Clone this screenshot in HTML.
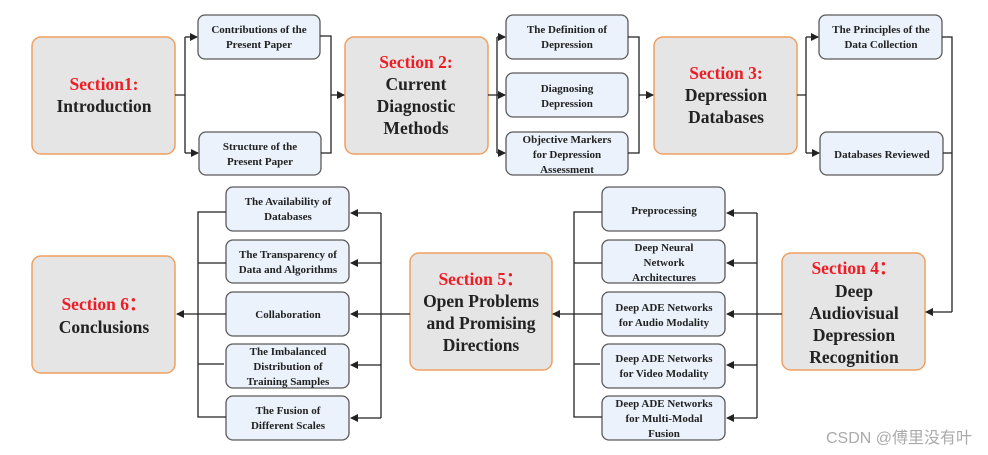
<!DOCTYPE html>
<html><head><meta charset="utf-8"><style>
html,body{margin:0;padding:0;background:#fff;}
svg{display:block;}
.big{fill:#e5e5e5;stroke:#f0a060;stroke-width:1.5;}
.sm{fill:#ebf2fb;stroke:#5a5a5a;stroke-width:1.3;}
.bt{font-family:"Liberation Serif",serif;font-weight:bold;font-size:17.5px;fill:#222;text-anchor:middle;}
.red{fill:#ee1c24;}
.st{font-family:"Liberation Serif",serif;font-weight:bold;font-size:11px;fill:#222;text-anchor:middle;}
.ln{stroke:#222;stroke-width:1.3;fill:none;}
</style></head><body>
<svg width="988" height="455" viewBox="0 0 988 455" xmlns="http://www.w3.org/2000/svg">
<defs><marker id="a" markerWidth="8" markerHeight="8" refX="7" refY="4" orient="auto" markerUnits="userSpaceOnUse"><path d="M0,0 L8,4 L0,8 z" fill="#222"/></marker></defs>

<!-- big boxes -->
<rect class="big" x="32" y="37" width="143" height="117" rx="9"/>
<text class="bt red" x="104" y="90">Section1:</text>
<text class="bt" x="104" y="112">Introduction</text>

<rect class="big" x="345" y="37" width="143" height="117" rx="9"/>
<text class="bt red" x="416" y="68">Section 2:</text>
<text class="bt" x="416" y="90">Current</text>
<text class="bt" x="416" y="112">Diagnostic</text>
<text class="bt" x="416" y="134">Methods</text>

<rect class="big" x="654" y="37" width="143" height="117" rx="9"/>
<text class="bt red" x="726" y="79">Section 3:</text>
<text class="bt" x="726" y="101">Depression</text>
<text class="bt" x="726" y="123">Databases</text>

<rect class="big" x="782" y="253" width="143" height="117" rx="9"/>
<text class="bt" x="854" y="274"><tspan class="red">Section 4：</tspan></text>
<text class="bt" x="854" y="297">Deep</text>
<text class="bt" x="854" y="319">Audiovisual</text>
<text class="bt" x="854" y="341">Depression</text>
<text class="bt" x="854" y="363">Recognition</text>

<rect class="big" x="410" y="253" width="142" height="117" rx="9"/>
<text class="bt red" x="481" y="285">Section 5：</text>
<text class="bt" x="481" y="307">Open Problems</text>
<text class="bt" x="481" y="329">and Promising</text>
<text class="bt" x="481" y="351">Directions</text>

<rect class="big" x="32" y="256" width="143" height="117" rx="9"/>
<text class="bt red" x="104" y="310">Section 6：</text>
<text class="bt" x="104" y="333">Conclusions</text>

<!-- row 1 small boxes -->
<rect class="sm" x="198" y="15" width="122" height="44" rx="7"/>
<text class="st" x="259" y="33">Contributions of the</text><text class="st" x="259" y="48">Present Paper</text>
<rect class="sm" x="199" y="132" width="122" height="43" rx="7"/>
<text class="st" x="260" y="150">Structure of the</text><text class="st" x="260" y="165">Present Paper</text>

<rect class="sm" x="506" y="15" width="122" height="44" rx="7"/>
<text class="st" x="567" y="33">The Definition of</text><text class="st" x="567" y="48">Depression</text>
<rect class="sm" x="506" y="73" width="122" height="44" rx="7"/>
<text class="st" x="567" y="92">Diagnosing</text><text class="st" x="567" y="107">Depression</text>
<rect class="sm" x="506" y="132" width="122" height="43" rx="7"/>
<text class="st" x="567" y="143">Objective Markers</text><text class="st" x="567" y="158">for Depression</text><text class="st" x="567" y="173">Assessment</text>

<rect class="sm" x="819" y="15" width="123" height="44" rx="7"/>
<text class="st" x="881" y="33">The Principles of the</text><text class="st" x="881" y="48">Data Collection</text>
<rect class="sm" x="820" y="132" width="123" height="43" rx="7"/>
<text class="st" x="882" y="158">Databases Reviewed</text>

<!-- row 2 right column -->
<rect class="sm" x="602" y="187" width="123" height="44" rx="7"/>
<text class="st" x="664" y="214">Preprocessing</text>
<rect class="sm" x="602" y="240" width="123" height="43" rx="7"/>
<text class="st" x="664" y="251">Deep Neural</text><text class="st" x="664" y="266">Network</text><text class="st" x="664" y="281">Architectures</text>
<rect class="sm" x="602" y="292" width="123" height="44" rx="7"/>
<text class="st" x="664" y="311">Deep ADE Networks</text><text class="st" x="664" y="326">for Audio Modality</text>
<rect class="sm" x="602" y="344" width="123" height="44" rx="7"/>
<text class="st" x="664" y="362">Deep ADE Networks</text><text class="st" x="664" y="377">for Video Modality</text>
<rect class="sm" x="602" y="396" width="123" height="44" rx="7"/>
<text class="st" x="664" y="407">Deep ADE Networks</text><text class="st" x="664" y="422">for Multi-Modal</text><text class="st" x="664" y="437">Fusion</text>

<!-- row 2 left column -->
<rect class="sm" x="226" y="187" width="123" height="44" rx="7"/>
<text class="st" x="288" y="205">The Availability of</text><text class="st" x="288" y="220">Databases</text>
<rect class="sm" x="226" y="240" width="123" height="43" rx="7"/>
<text class="st" x="288" y="258">The Transparency of</text><text class="st" x="288" y="273">Data and Algorithms</text>
<rect class="sm" x="226" y="292" width="123" height="44" rx="7"/>
<text class="st" x="288" y="318">Collaboration</text>
<rect class="sm" x="226" y="344" width="123" height="44" rx="7"/>
<text class="st" x="288" y="355">The Imbalanced</text><text class="st" x="288" y="370">Distribution of</text><text class="st" x="288" y="385">Training Samples</text>
<rect class="sm" x="226" y="396" width="123" height="44" rx="7"/>
<text class="st" x="288" y="414">The Fusion of</text><text class="st" x="288" y="429">Different Scales</text>

<!-- connectors row 1 -->
<path class="ln" d="M175,95 H185 M185,37 V153"/>
<path class="ln" d="M185,37 H197" marker-end="url(#a)"/>
<path class="ln" d="M185,153 H198" marker-end="url(#a)"/>
<path class="ln" d="M320,36 H331 V153 H321"/>
<path class="ln" d="M331,95 H344" marker-end="url(#a)"/>

<path class="ln" d="M488,95 H497 M497,37 V153"/>
<path class="ln" d="M497,37 H505" marker-end="url(#a)"/>
<path class="ln" d="M497,95 H505" marker-end="url(#a)"/>
<path class="ln" d="M497,153 H505" marker-end="url(#a)"/>
<path class="ln" d="M628,37 H639 V153 H628"/>
<path class="ln" d="M639,95 H653" marker-end="url(#a)"/>

<path class="ln" d="M797,95 H806 M806,37 V153"/>
<path class="ln" d="M806,37 H818" marker-end="url(#a)"/>
<path class="ln" d="M806,153 H819" marker-end="url(#a)"/>
<path class="ln" d="M942,37 H952 V312 M943,153 H952"/>
<path class="ln" d="M952,312 H926" marker-end="url(#a)"/>

<!-- connectors section 4 -> column -->
<path class="ln" d="M782,314 H757 M757,213 V418"/>
<path class="ln" d="M757,213 H727" marker-end="url(#a)"/>
<path class="ln" d="M757,263 H727" marker-end="url(#a)"/>
<path class="ln" d="M757,314 H727" marker-end="url(#a)"/>
<path class="ln" d="M757,365 H727" marker-end="url(#a)"/>
<path class="ln" d="M757,418 H727" marker-end="url(#a)"/>
<path class="ln" d="M602,212 H574 V417 H602 M574,263 H602 M574,314 H602 M574,364 H600"/>
<path class="ln" d="M574,314 H553" marker-end="url(#a)"/>

<!-- connectors section 5 -> column -->
<path class="ln" d="M410,314 H381 M381,213 V418"/>
<path class="ln" d="M381,213 H351" marker-end="url(#a)"/>
<path class="ln" d="M381,263 H351" marker-end="url(#a)"/>
<path class="ln" d="M381,314 H351" marker-end="url(#a)"/>
<path class="ln" d="M381,365 H351" marker-end="url(#a)"/>
<path class="ln" d="M381,418 H351" marker-end="url(#a)"/>
<path class="ln" d="M226,212 H198 V417 H226 M198,263 H226 M198,314 H226 M198,364 H224"/>
<path class="ln" d="M198,314 H177" marker-end="url(#a)"/>

<text x="972" y="443" text-anchor="end" style="font-family:'Liberation Sans','Noto Sans CJK SC',sans-serif;font-size:16px;fill:#aaa;">CSDN @傅里没有叶</text>
</svg>
</body></html>
